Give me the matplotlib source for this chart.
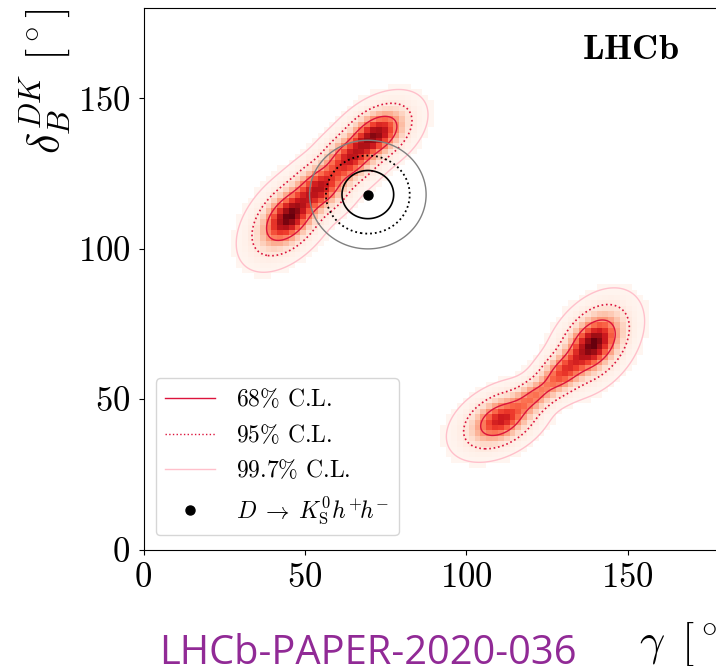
import numpy as np
import matplotlib
matplotlib.use("Agg")
import matplotlib.pyplot as plt
from matplotlib.lines import Line2D

plt.rcParams['mathtext.fontset'] = 'cm'
plt.rcParams['font.family'] = 'serif'
plt.rcParams['font.serif'] = ['cmr10']
plt.rcParams['axes.formatter.use_mathtext'] = True

# ---- data ----
# Likelihood components (gamma, delta_B) of the combined B->DK measurement
comp_gamma = [45.0, 55.0, 63.5, 72.0,
              110.5, 121.0, 130.0, 139.5]
comp_delta = [110.5, 120.5, 129.5, 138.0,
              43.0, 51.0, 59.0, 68.5]
comp_sig_major = [6.5, 5.0, 5.0, 5.8,
                  5.8, 5.0, 5.0, 6.3]
comp_sig_minor = [3.8, 3.7, 3.6, 3.6,
                  3.7, 2.6, 3.0, 4.0]
comp_angle = [52.0, 45.0, 42.0, 40.0,
              33.0, 40.0, 47.0, 56.0]
comp_amp = [1.0, 0.7, 0.65, 0.9,
            0.75, 0.4, 0.55, 1.0]

# D -> KS h+ h- constraint
dkshh_gamma = 69.5
dkshh_delta = 118.0
dkshh_sigma = 5.3

cl_probs = [0.997, 0.95, 0.68]
cl_labels = [r'$68\%$ C.L.', r'$95\%$ C.L.', r'$99.7\%$ C.L.']
point_label = r'$D\;\rightarrow\;K^0_{\rm S}h^{+}\!h^{-}$'
xticks = [0, 50, 100, 150]
yticks = [0, 50, 100, 150]
n_bins = 100
axis_range = (0.0, 180.0)


def mixture(g, d):
    z = np.zeros_like(g)
    for cx, cy, s1, s2, ang, a in zip(comp_gamma, comp_delta, comp_sig_major,
                                      comp_sig_minor, comp_angle, comp_amp):
        t = np.deg2rad(ang)
        u = (g - cx) * np.cos(t) + (d - cy) * np.sin(t)
        v = -(g - cx) * np.sin(t) + (d - cy) * np.cos(t)
        z += a * np.exp(-0.5 * (u / s1) ** 2 - 0.5 * (v / s2) ** 2)
    return z


def hpd_levels(z, probs):
    zs = np.sort(z.ravel())[::-1]
    cs = np.cumsum(zs)
    cs /= cs[-1]
    return [zs[min(np.searchsorted(cs, p), zs.size - 1)] for p in probs]


fig = plt.figure(figsize=(7.16, 6.66), dpi=100)
ax = fig.add_axes([143.5 / 716, 116.5 / 666, 581 / 716, 541.4 / 666])

# histogram
edges = np.linspace(axis_range[0], axis_range[1], n_bins + 1)
centers = 0.5 * (edges[:-1] + edges[1:])
GC, DC = np.meshgrid(centers, centers)
H = mixture(GC, DC)

# fine grid for contours
fine = np.linspace(axis_range[0], axis_range[1], 721)
GF, DF = np.meshgrid(fine, fine)
ZF = mixture(GF, DF)
lv = hpd_levels(ZF, cl_probs)

Hm = np.ma.masked_less(H, 0.35 * lv[0])
ax.pcolormesh(edges, edges, Hm, cmap='Reds', vmin=0, vmax=H.max(), zorder=1)
ax.contour(GF, DF, ZF, levels=lv, colors=['pink', 'crimson', 'crimson'],
           linestyles=['solid', 'dotted', 'solid'], linewidths=[1.0, 1.2, 1.0], zorder=2)

# D -> KS h h constraint
ZP = np.exp(-0.5 * ((GF - dkshh_gamma) ** 2 + (DF - dkshh_delta) ** 2) / dkshh_sigma ** 2)
lp = hpd_levels(ZP, cl_probs)
ax.contour(GF, DF, ZP, levels=lp, colors=['gray', 'black', 'black'],
           linestyles=['solid', 'dotted', 'solid'], linewidths=[1.0, 1.3, 1.2], zorder=3)
ax.plot([dkshh_gamma], [dkshh_delta], 'o', color='black', markersize=6.5, zorder=4)

ax.set_xlim(*axis_range)
ax.set_ylim(*axis_range)
ax.set_xticks(xticks)
ax.set_yticks(yticks)
ax.tick_params(labelsize=25, pad=6)

ax.set_xlabel(r'$\gamma\ \,[^\circ]$', fontsize=32, loc='right')
ax.xaxis.set_label_coords(1.0 + 10 / 581, -0.130)
ax.set_ylabel(r'$\delta_B^{DK}\ [^\circ]$', fontsize=32, loc='top', labelpad=4)

ax.text(0.838, 0.922, r'$\mathbf{LHCb}$', transform=ax.transAxes, fontsize=26,
        ha='center', va='center')

handles = [Line2D([], [], color='crimson', lw=1.0, ls='solid'),
           Line2D([], [], color='crimson', lw=1.0, ls='dotted'),
           Line2D([], [], color='pink', lw=1.0, ls='solid'),
           Line2D([], [], color='black', marker='o', ls='none', markersize=6.5)]
ax.legend(handles, cl_labels + [point_label], loc='lower left',
          bbox_to_anchor=(12 / 581, 14 / 541), borderaxespad=0, fontsize=17,
          handlelength=2.1, handletextpad=0.9)

fig.text(159 / 716, 1.5 / 666, 'LHCb-PAPER-2020-036', fontsize=28.7, color='#912a96',
         family='Open Sans', ha='left', va='baseline')

fig.savefig('out.png', dpi=100)
